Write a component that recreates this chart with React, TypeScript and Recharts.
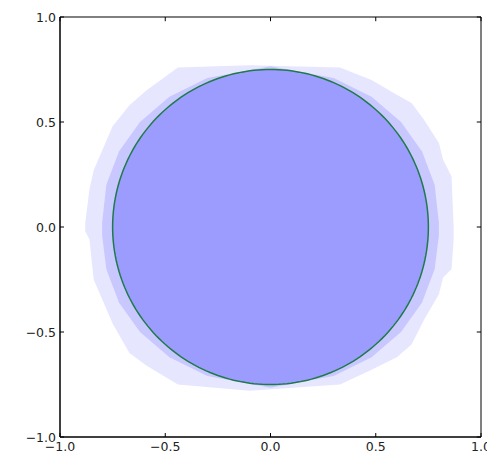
import { ComposedChart, Area, Line, XAxis, YAxis, ReferenceArea, ReferenceLine } from "recharts";

const ticks = [-1, -0.5, 0, 0.5, 1];
const tickLabels = ["−1.0", "−0.5", "0.0", "0.5", "1.0"];

const R = 0.75;

// outer faint halo of squares
const haloX = [-0.88, -0.86, -0.84, -0.75, -0.67, -0.59, -0.44, -0.1, 0.33, 0.48, 0.6, 0.67, 0.73, 0.8, 0.82, 0.86, 0.87];
const haloTop = [0.02, 0.18, 0.27, 0.48, 0.58, 0.65, 0.76, 0.77, 0.76, 0.7, 0.63, 0.59, 0.51, 0.4, 0.32, 0.24, 0.0];
const haloBottom = [-0.02, -0.06, -0.25, -0.46, -0.6, -0.66, -0.75, -0.78, -0.75, -0.68, -0.62, -0.56, -0.44, -0.32, -0.24, -0.2, -0.06];

// denser band just outside the circle
const midX = [-0.8, -0.78, -0.72, -0.62, -0.48, -0.3, 0, 0.3, 0.48, 0.62, 0.72, 0.78, 0.8];
const midTop = [0.02, 0.2, 0.36, 0.5, 0.62, 0.71, 0.765, 0.71, 0.62, 0.5, 0.36, 0.2, 0.02];
const midBottom = [-0.04, -0.2, -0.36, -0.5, -0.62, -0.71, -0.765, -0.71, -0.62, -0.5, -0.36, -0.2, -0.04];

const halo = haloX.map((x, i) => ({ x, lo: haloBottom[i], hi: haloTop[i] }));
const mid = midX.map((x, i) => ({ x, lo: midBottom[i], hi: midTop[i] }));

// the circle x^2 + y^2 = R^2
const STEPS = 120;
const disk = Array.from({ length: STEPS + 1 }, (_, i) => {
  const t = Math.PI - (Math.PI * i) / STEPS;
  const h = R * Math.sin(t);
  return { x: R * Math.cos(t), lo: -h, hi: h };
});
const ring = Array.from({ length: STEPS * 2 + 1 }, (_, i) => {
  const t = (Math.PI * i) / STEPS;
  return { x: R * Math.cos(t), y: R * Math.sin(t) };
});

const label = (v: number) => tickLabels[ticks.indexOf(v)] ?? String(v);
const font = "DejaVu Sans, sans-serif";
const TICK_LEN = 0.02; // inward tick length in data units on the top/right frame

const BottomTick = ({ x, y, payload }: any) => (
  <g>
    <line x1={x} x2={x} y1={y} y2={y - 4} stroke="#000" />
    <text x={x} y={y + 14} textAnchor="middle" fontSize={12.5} fontFamily={font} fill="#222">
      {label(payload.value)}
    </text>
  </g>
);
const LeftTick = ({ x, y, payload }: any) => (
  <g>
    <line x1={x} x2={x + 4} y1={y} y2={y} stroke="#000" />
    <text x={x - 4} y={y + 4.5} textAnchor="end" fontSize={12.5} fontFamily={font} fill="#222">
      {label(payload.value)}
    </text>
  </g>
);

export default function App() {
  return (
    <div style={{ width: 487, height: 458, background: "#fff" }}>
      <style>{`body{margin:0}`}</style>
      <ComposedChart width={487} height={458} margin={{ top: 17, right: 6, bottom: 0, left: 0 }}>
        <XAxis
          dataKey="x"
          type="number"
          domain={[-1, 1]}
          ticks={ticks}
          allowDataOverflow
          height={21}
          tickSize={0}
          tickMargin={0}
          tickLine={false}
          tick={<BottomTick />}
          axisLine={{ stroke: "#000" }}
          interval={0}
        />
        <YAxis
          type="number"
          domain={[-1, 1]}
          ticks={ticks}
          allowDataOverflow
          width={60}
          tickSize={0}
          tickMargin={0}
          tickLine={false}
          tick={<LeftTick />}
          axisLine={{ stroke: "#000" }}
          interval={0}
        />
        <Area data={halo} dataKey={(d: any) => [d.lo, d.hi]} type="linear" stroke="none" fill="#e6e6ff" fillOpacity={1} isAnimationActive={false} />
        <Area data={mid} dataKey={(d: any) => [d.lo, d.hi]} type="linear" stroke="none" fill="#c8c8ff" fillOpacity={1} isAnimationActive={false} />
        <Area data={disk} dataKey={(d: any) => [d.lo, d.hi]} type="linear" stroke="none" fill="#9c9cff" fillOpacity={1} isAnimationActive={false} />
        <Line data={ring} dataKey="y" type="linear" stroke="#1f7a4a" strokeWidth={1.5} dot={false} isAnimationActive={false} />
        <ReferenceArea x1={-1} x2={1} y1={-1} y2={1} fill="none" stroke="#000" strokeWidth={1} />
        {ticks.map((v) => (
          <ReferenceLine key={`t${v}`} segment={[{ x: v, y: 1 }, { x: v, y: 1 - TICK_LEN }]} stroke="#000" />
        ))}
        {ticks.map((v) => (
          <ReferenceLine key={`r${v}`} segment={[{ x: 1, y: v }, { x: 1 - TICK_LEN, y: v }]} stroke="#000" />
        ))}
      </ComposedChart>
    </div>
  );
}
